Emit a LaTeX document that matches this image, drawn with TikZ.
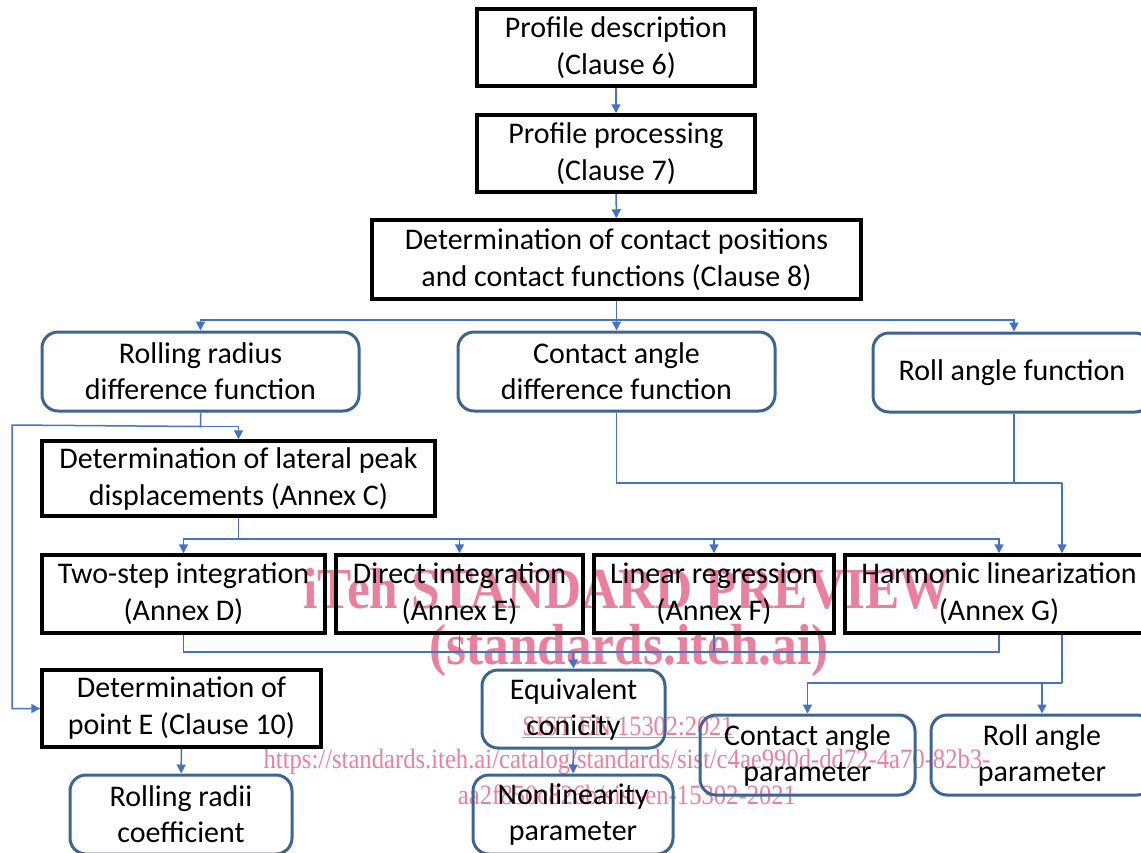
\documentclass[tikz,border=0pt]{standalone}
\usepackage{fontspec}
\setmainfont{Carlito}
\newfontfamily\wmfont{Liberation Serif}
\usepackage{tikz}
\usetikzlibrary{shapes,arrows.meta,positioning}
\definecolor{linkblue}{RGB}{68,114,196}
\definecolor{edgeblue}{RGB}{62,100,145}
\definecolor{wmpink}{RGB}{234,128,160}
\tikzstyle{bbox} = [rectangle, draw=black, line width=3.5pt, align=center, inner sep=0pt, font=\fontsize{30}{37}\selectfont]
\tikzstyle{rbox} = [rectangle, rounded corners=16pt, draw=edgeblue, line width=3pt, align=center, inner sep=0pt, font=\fontsize{30}{36}\selectfont]
\tikzstyle{line} = [draw=linkblue, line width=1.5pt]
\tikzstyle{arr} = [line, -{Triangle[length=9pt,width=9pt]}]
\tikzstyle{wmark} = [text=wmpink, inner sep=0pt]

\begin{document}
\begin{tikzpicture}[x=1pt, y=-1pt]
			\useasboundingbox (0,0) rectangle (1141,852);

			% watermark, drawn first so the chart lies over it
			\node [wmark, xscale=0.885, font=\wmfont\bfseries\fontsize{58}{58}\selectfont] (wm1) at (627, 589) {iTeh STANDARD PREVIEW};
			\node [wmark, xscale=0.885, font=\wmfont\bfseries\fontsize{58}{58}\selectfont] (wm2) at (629, 651) {(standards.iteh.ai)};
			\node [wmark, xscale=0.87, font=\wmfont\fontsize{28}{28}\selectfont] (wm3) at (628, 727) {\underline{SIST EN 15302:2021}};
			\node [wmark, xscale=0.88, font=\wmfont\fontsize{28}{28}\selectfont] (wm4) at (627, 762) {https://standards.iteh.ai/catalog/standards/sist/c4ae990d-dd72-4a70-82b3-};
			\node [wmark, xscale=0.88, font=\wmfont\fontsize{28}{28}\selectfont] (wm5) at (627, 795) {aa2f850c826b/sist-en-15302-2021};

			% main chain
			\node [bbox, minimum width=278, minimum height=77] (pdesc) at (616, 47.5) {Profile description\\(Clause 6)};
			\node [bbox, minimum width=278, minimum height=77] (pproc) at (616, 153.5) {Profile processing\\(Clause 7)};
			\node [bbox, minimum width=489, minimum height=79] (cdet) at (616.5, 259.5) {Determination of contact positions\\and contact functions (Clause 8)};

			% contact functions
			\node [rbox, minimum width=317, minimum height=79] (rrdf) at (200.5, 371.5) {Rolling radius\\difference function};
			\node [rbox, minimum width=317, minimum height=79] (cadf) at (616.5, 371.5) {Contact angle\\difference function};
			\node [rbox, minimum width=278, minimum height=79] (raf) at (1012, 372.5) {Roll angle function};

			\node [bbox, minimum width=393, minimum height=75] (lpd) at (238.5, 478.5) {Determination of lateral peak\\displacements (Annex C)};

			% methods
			\node [bbox, minimum width=283, minimum height=78] (twostep) at (183.5, 594) {Two-step integration\\(Annex D)};
			\node [bbox, minimum width=247, minimum height=78] (direct) at (459.5, 594) {Direct integration\\(Annex E)};
			\node [bbox, minimum width=240, minimum height=78] (linreg) at (714, 594) {Linear regression\\(Annex F)};
			\node [bbox, minimum width=308, minimum height=78] (harmlin) at (999, 594) {Harmonic linearization\\(Annex G)};

			% results
			\node [bbox, minimum width=279, minimum height=77] (pointe) at (181.5, 708.5) {Determination of\\point E (Clause 10)};
			\node [rbox, minimum width=183, minimum height=78] (eqcon) at (573.5, 709) {Equivalent\\conicity};
			\node [rbox, minimum width=215, minimum height=80] (caparam) at (807.5, 755) {Contact angle\\parameter};
			\node [rbox, minimum width=222, minimum height=80] (raparam) at (1042, 755) {Roll angle\\parameter};
			\node [rbox, minimum width=222, minimum height=79] (rrcoef) at (181, 814.5) {Rolling radii\\coefficient};
			\node [rbox, minimum width=200, minimum height=79] (nonlin) at (573, 814.5) {Nonlinearity\\parameter};

			\coordinate (lbus) at (12, 425);
			\coordinate (hbus) at (1062, 483);
			\coordinate (ebus) at (573, 652);
			\coordinate (pbus) at (1062, 683);

			\path [arr] (pdesc) -- (pproc);
			\path [arr] (pproc) -- (cdet);
			\path [arr] (cdet.south) -- ++(0,19) -| (rrdf.north);
			\path [arr] (cdet.south) -- (cadf.north);
			\path [arr] (cdet.south) -- ++(0,19) -| ([xshift=2]raf.north);
			\path [arr] (rrdf.south) -- ++(0,14) -| (lpd.north);
			\path [arr] (rrdf.south) -- ++(0,14) -- (lbus) |- (pointe.west);
			\path [arr] (lpd.south) -- ++(0,21) -| (twostep.north);
			\path [arr] (lpd.south) -- ++(0,21) -| (direct.north);
			\path [arr] (lpd.south) -- ++(0,21) -| (linreg.north);
			\path [arr] (lpd.south) -- ++(0,21) -| (harmlin.north);
			\path [line] (cadf.south) |- (hbus);
			\path [line] ([xshift=2]raf.south) -- ([xshift=2]raf.south |- hbus);
			\path [arr] (hbus) -- (hbus |- harmlin.north);
			\path [line] (twostep.south) |- (ebus);
			\path [line] (harmlin.south) |- (ebus);
			\path [line] (direct.south) -- (direct.south |- ebus);
			\path [line] (linreg.south) -- (linreg.south |- ebus);
			\path [arr] (ebus) -- (eqcon.north);
			\path [line] (pbus |- harmlin.south) -- (pbus);
			\path [arr] (pbus) -| (caparam.north);
			\path [arr] (pbus) -| (raparam.north);
			\path [arr] (pointe) -- (rrcoef);
			\path [arr] (eqcon) -- (nonlin);
		\end{tikzpicture}
\end{document}
